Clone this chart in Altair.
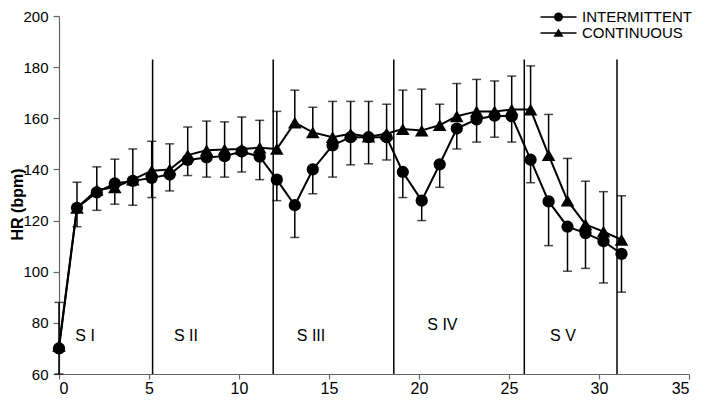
import altair as alt
import pandas as pd

# ---- data ----
time = [0, 1, 2.1, 3.1, 4.1, 5.15, 6.15, 7.15, 8.2, 9.2, 10.15, 11.15, 12.1, 13.1,
        14.1, 15.2, 16.2, 17.2, 18.2, 19.1, 20.15, 21.15, 22.1, 23.2, 24.2, 25.15,
        26.2, 27.2, 28.25, 29.25, 30.25, 31.25]
intermittent = [70, 125, 131, 134.5, 135.5, 136.7, 138, 143.7, 144.7, 145.2, 147, 145,
                136, 126, 140, 149.4, 152.6, 152.6, 152.6, 139, 127.8, 142, 156, 159.6,
                161, 160.8, 143.8, 127.5, 117.6, 115.1, 111.9, 107]
intermittent_low = [60, 117.6, 124, 126.4, 126, 129, 131.6, 137.6, 137, 137, 139, 136,
                    127.8, 113.4, 130.5, 137, 141.8, 142.2, 143.7, 129, 120, 133, 148,
                    150.7, 152.6, 150.7, 134.8, 110.2, 100.2, 101.3, 95.6, 92]
continuous = [71, 125, 132, 133, 136, 139.5, 140, 145.6, 147.5, 147.8, 148, 148.5, 148,
              158.3, 154.5, 152.6, 153.9, 152.8, 154, 155.8, 155.2, 157.3, 160.8, 162.7,
              162.7, 163.4, 163.4, 145.6, 127.8, 118.5, 115.7, 112.5]
continuous_high = [88, 135, 141, 144, 148, 151, 150, 156.6, 158.9, 158.6, 160.5, 159.2,
                   162.7, 171, 164.3, 166.6, 166.6, 166.6, 165.5, 171, 171.4, 165.5,
                   173.6, 175.2, 174.6, 176.5, 180.5, 161.5, 144.3, 135.4, 131.3, 129.7]
boundaries = [5.2, 11.9, 18.6, 25.85, 31.0]
boundary_bottom = 60
boundary_top = 183
stage_labels = ["S I", "S II", "S III", "S IV", "S V"]
stage_x = [1.45, 7.05, 14.0, 21.3, 28.0]
stage_y = [75, 75, 75, 79, 75]

FONT = "Liberation Sans"

df_i = pd.DataFrame({"t": time, "hr": intermittent, "err": intermittent_low,
                     "series": "INTERMITTENT"})
df_c = pd.DataFrame({"t": time, "hr": continuous, "err": continuous_high,
                     "series": "CONTINUOUS"})
df_b = pd.DataFrame({"t": boundaries, "y0": boundary_bottom, "y1": boundary_top})
df_s = pd.DataFrame({"t": stage_x, "y": stage_y, "label": stage_labels})

xscale = alt.Scale(domain=[0, 35], nice=False)
yscale = alt.Scale(domain=[60, 200], nice=False)

X = alt.X("t:Q", scale=xscale,
          axis=alt.Axis(values=[0, 5, 10, 15, 20, 25, 30, 35], title=None,
                        labelPadding=1, tickSize=5, labelFontSize=16))
Y = alt.Y("hr:Q", scale=yscale,
          axis=alt.Axis(values=[60, 80, 100, 120, 140, 160, 180, 200], title="HR (bpm)",
                        labelPadding=5, tickSize=6, labelFontSize=15,
                        titleX=-42, titleY=188, titleAngle=-90, titleAlign="center",
                        titleBaseline="middle", titleFontWeight="bold", titleFontSize=16,
                        titleFont=FONT, titleColor="black"))

sep = alt.Chart(df_b).mark_rule(color="black", strokeWidth=1.5).encode(
    x=alt.X("t:Q", scale=xscale), y=alt.Y("y0:Q", scale=yscale), y2="y1:Q")

def series_layers(df, shape, size, legend_path, lx, ly):
    base = alt.Chart(df)
    bar = base.mark_rule(color="black", strokeWidth=1.5).encode(
        x=alt.X("t:Q", scale=xscale), y=alt.Y("hr:Q", scale=yscale), y2="err:Q")
    cap = base.mark_tick(color="black", orient="horizontal", size=9, thickness=1.5).encode(
        x=alt.X("t:Q", scale=xscale), y=alt.Y("err:Q", scale=yscale))
    line = base.mark_line(color="black", strokeWidth=2).encode(x=X, y=Y)
    pts = base.mark_point(filled=True, shape=shape, size=size, opacity=1).encode(
        x=alt.X("t:Q", scale=xscale), y=alt.Y("hr:Q", scale=yscale),
        color=alt.Color("series:N",
                        scale=alt.Scale(domain=[df["series"].iloc[0]], range=["black"]),
                        legend=alt.Legend(title=None, orient="none", legendX=lx, legendY=ly,
                                          symbolType=legend_path, symbolSize=225,
                                          symbolOpacity=1, labelFontSize=15, labelFont=FONT,
                                          labelColor="black", labelOffset=15, padding=0)))
    return bar + cap + line + pts

circle_path = ("M-2.4,-0.1H2.4V0.1H-2.4Z"
               "M0.6,0A0.6,0.6 0 1,1 -0.6,0A0.6,0.6 0 1,1 0.6,0Z")
tri_path = ("M-2.4,-0.1H2.4V0.1H-2.4Z"
            "M0,-0.6L0.68,0.5L-0.68,0.5Z")

lay_i = series_layers(df_i, "circle", 150, circle_path, 491, -7.5)
lay_c = series_layers(df_c, "triangle-up", 185, tri_path, 491, 8.5)

labels = alt.Chart(df_s).mark_text(fontSize=16, font=FONT, color="black").encode(
    x=alt.X("t:Q", scale=xscale), y=alt.Y("y:Q", scale=yscale), text="label:N")

chart = alt.layer(sep, lay_i, lay_c, labels).resolve_scale(color="independent").resolve_legend(
    color="independent"
).properties(
    width=630, height=358,
    autosize=alt.AutoSizeParams(type="none"),
    padding={"left": 51, "top": 8, "right": 8, "bottom": 24},
).configure_view(stroke=None).configure_axis(
    grid=False, domainColor="#666", tickColor="#666", domainWidth=1.2, tickWidth=1.2,
    labelFont=FONT, labelColor="black",
)

chart.save("out.html", embed_options={"renderer": "svg", "actions": False})
